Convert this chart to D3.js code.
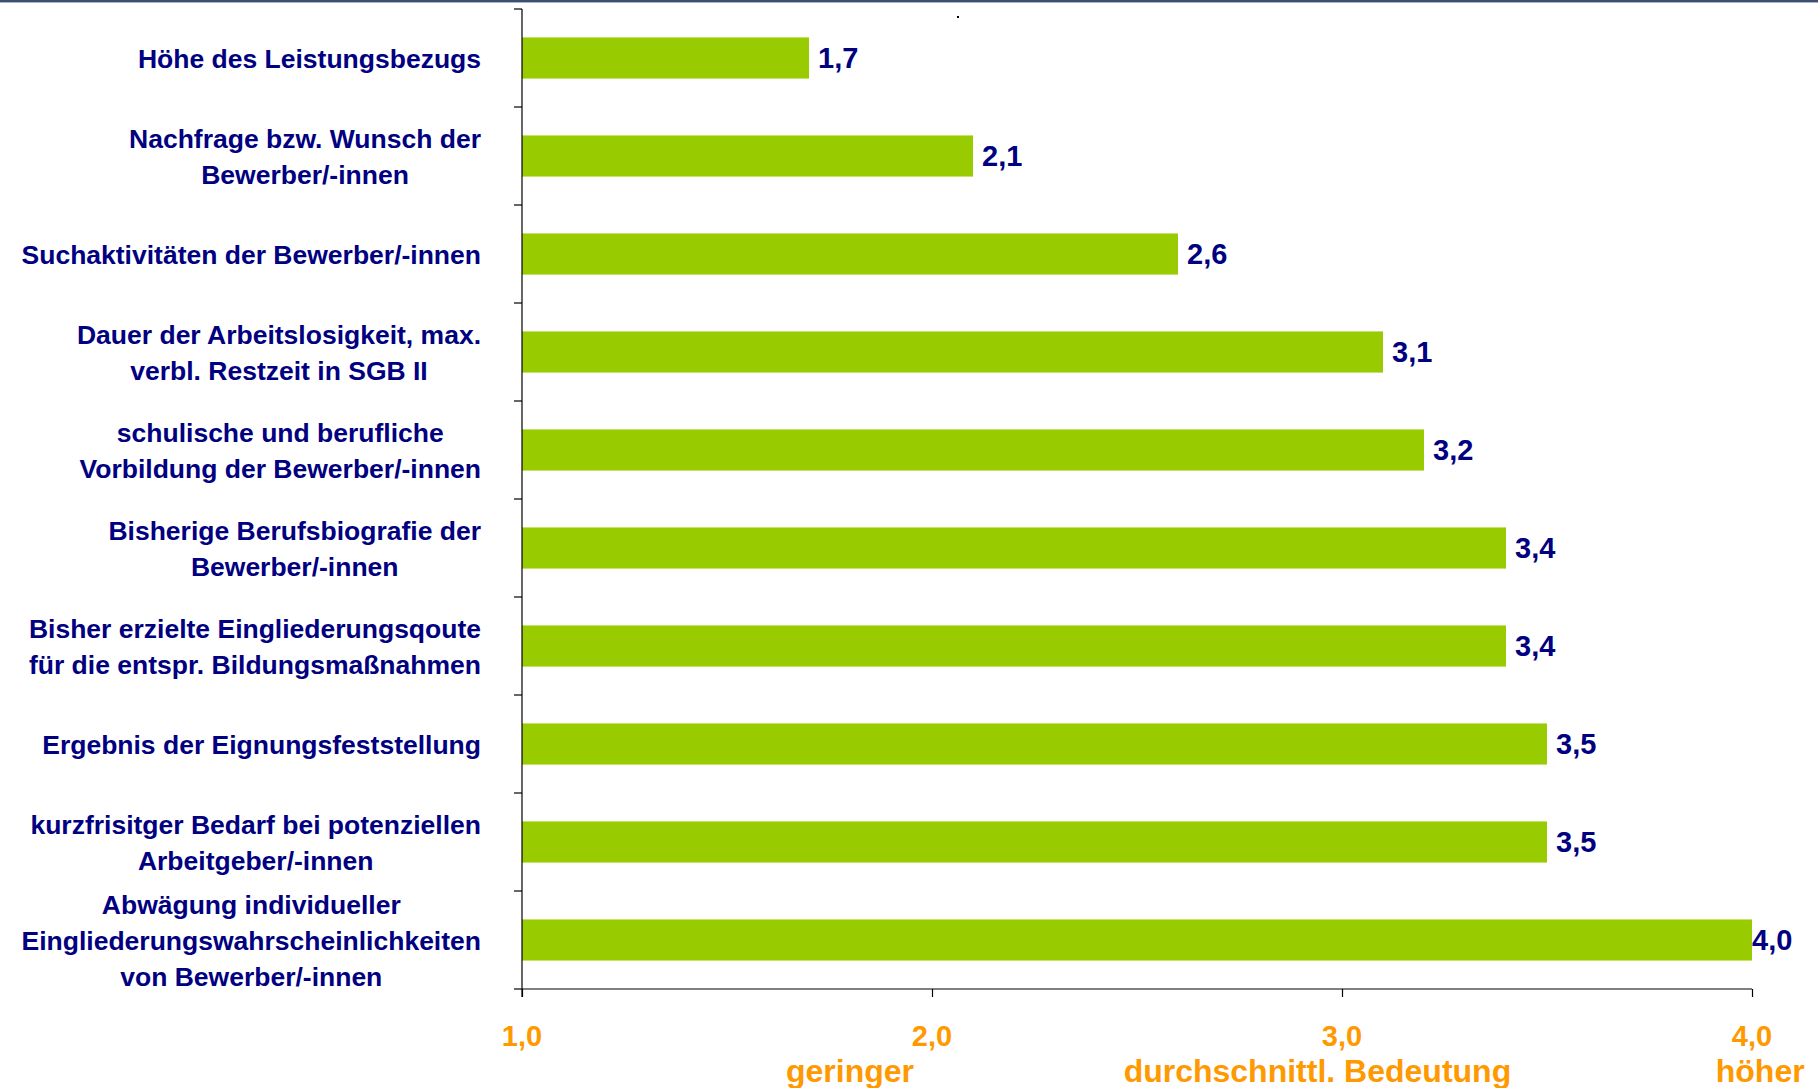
<!DOCTYPE html>
<html>
<head>
<meta charset="utf-8">
<script src="https://cdn.jsdelivr.net/npm/d3@7/dist/d3.min.js"></script>
<style>
  html, body { margin: 0; padding: 0; background: #ffffff; }
  svg { display: block; }
  text { font-family: "Liberation Sans", Arial, sans-serif; font-weight: bold; }
</style>
</head>
<body>
<svg id="chart" width="1818" height="1088"></svg>
<script>
// ---- data ----
const categories = [
  "Höhe des Leistungsbezugs",
  "Nachfrage bzw. Wunsch der\nBewerber/-innen",
  "Suchaktivitäten der Bewerber/-innen",
  "Dauer der Arbeitslosigkeit, max.\nverbl. Restzeit in SGB II",
  "schulische und berufliche\nVorbildung der Bewerber/-innen",
  "Bisherige Berufsbiografie der\nBewerber/-innen",
  "Bisher erzielte Eingliederungsqoute\nfür die entspr. Bildungsmaßnahmen",
  "Ergebnis der Eignungsfeststellung",
  "kurzfrisitger Bedarf bei potenziellen\nArbeitgeber/-innen",
  "Abwägung individueller\nEingliederungswahrscheinlichkeiten\nvon Bewerber/-innen"
];
const values = [1.7, 2.1, 2.6, 3.1, 3.2, 3.4, 3.4, 3.5, 3.5, 4.0];
const xTicks = [1, 2, 3, 4];
const scaleLabels = ["geringer", "durchschnittl. Bedeutung", "höher"];
const scaleLabelAnchors = [1.8, 2.94, 4.02];

// ---- layout ----
const svg = d3.select("#chart");
const mLeft = 522, mRight = 1752, mTop = 9, mBottom = 989;
const navy = "#000080", green = "#99CC00", orange = "#FF9900";
const fmt = v => d3.format(".1f")(v).replace(".", ",");

const x = d3.scaleLinear().domain([1, 4]).range([mLeft, mRight]);
const y = d3.scaleBand().domain(categories).range([mTop, mBottom])
  .paddingInner(0.58).paddingOuter(0.29);

// top border line
svg.append("rect").attr("x", 0).attr("y", 0).attr("width", 1818).attr("height", 2).attr("fill", "#3f4f6f");
svg.append("rect").attr("x", 0).attr("y", 2).attr("width", 1818).attr("height", 1).attr("fill", "#aab4c8");
// stray dot
svg.append("rect").attr("x", 957).attr("y", 16).attr("width", 2).attr("height", 2).attr("fill", "#000");

// bars
svg.selectAll("rect.bar").data(values).enter().append("rect")
  .attr("class", "bar")
  .attr("x", x(1))
  .attr("y", (d, i) => y(categories[i]))
  .attr("width", d => x(d) - x(1))
  .attr("height", y.bandwidth())
  .attr("fill", green);

// value labels
svg.selectAll("text.val").data(values).enter().append("text")
  .attr("class", "val")
  .attr("x", d => Math.min(x(d) + 9, x(4)))
  .attr("y", (d, i) => y(categories[i]) + y.bandwidth() / 2)
  .attr("dy", "0.36em")
  .attr("font-size", 29)
  .attr("fill", navy)
  .text(d => fmt(d));

// left axis line and band ticks
svg.append("line").attr("x1", mLeft).attr("x2", mLeft).attr("y1", mTop).attr("y2", mBottom + 8)
  .attr("stroke", "#000").attr("stroke-width", 1.2);
const step = y.step();
const bounds = d3.range(categories.length + 1).map(i => mTop + i * step);
svg.selectAll("line.ytick").data(bounds).enter().append("line")
  .attr("x1", mLeft - 8).attr("x2", mLeft).attr("y1", d => d).attr("y2", d => d)
  .attr("stroke", "#000").attr("stroke-width", 1.2);

// bottom axis
const xAxis = d3.axisBottom(x).tickValues(xTicks).tickSize(8).tickFormat("");
const gx = svg.append("g").attr("transform", `translate(0,${mBottom})`).call(xAxis);
gx.select(".domain").attr("stroke", "#000").attr("stroke-width", 1.2).attr("d", `M${mLeft},0H${mRight}`);
gx.selectAll(".tick line").attr("stroke", "#000").attr("stroke-width", 1.2);

// x tick labels
svg.selectAll("text.xt").data(xTicks).enter().append("text")
  .attr("class", "xt")
  .attr("x", d => x(d))
  .attr("y", 1046)
  .attr("text-anchor", "middle")
  .attr("font-size", 29)
  .attr("fill", orange)
  .text(d => fmt(d));

// scale descriptors
svg.selectAll("text.desc").data(scaleLabels).enter().append("text")
  .attr("class", "desc")
  .attr("x", (d, i) => x(scaleLabelAnchors[i]))
  .attr("y", 1082)
  .attr("text-anchor", "middle")
  .attr("font-size", 32)
  .attr("fill", orange)
  .text(d => d);

// category labels (lines centered within a right-aligned block)
const labelRight = 481, lineH = 36;
categories.forEach((c, i) => {
  const lines = c.split("\n");
  const g = svg.append("g");
  const cy = y(c) + y.bandwidth() / 2;
  const texts = lines.map((ln, j) => g.append("text")
    .attr("y", cy + (j - (lines.length - 1) / 2) * lineH)
    .attr("dy", "0.36em")
    .attr("font-size", 26.5)
    .attr("fill", navy)
    .attr("text-anchor", "middle")
    .text(ln));
  const maxW = d3.max(texts, t => t.node().getComputedTextLength());
  texts.forEach(t => t.attr("x", labelRight - maxW / 2));
});
</script>
</body>
</html>
